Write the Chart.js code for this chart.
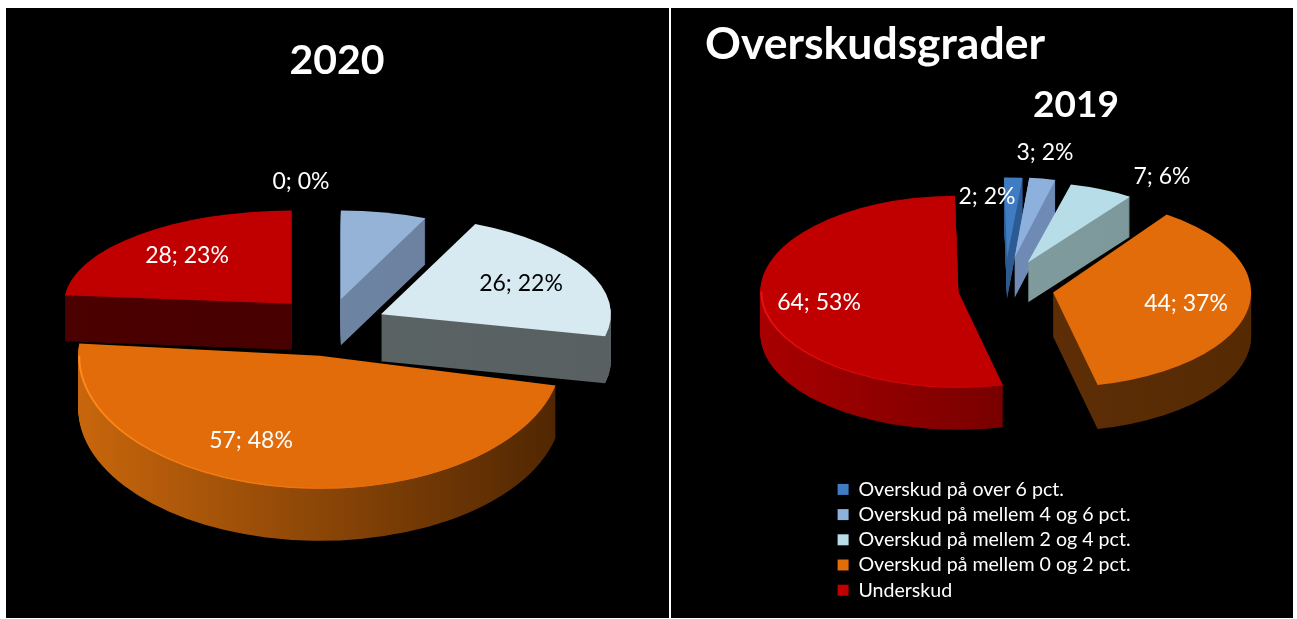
<!DOCTYPE html>
<html>
<head>
<meta charset="utf-8">
<title>Overskudsgrader</title>
<script src="https://cdn.jsdelivr.net/npm/chart.js@4/dist/chart.umd.js"></script>
<style>
  html, body { margin: 0; padding: 0; background: #fff; width: 1297px; height: 619px; overflow: hidden; }
  canvas { position: absolute; background: #000; }
  #chart-2020 { left: 6px; top: 8px; }
  #chart-2019 { left: 671px; top: 8px; }
</style>
</head>
<body>
<canvas id="chart-2020" width="663" height="610"></canvas>
<canvas id="chart-2019" width="622" height="610"></canvas>
<script>
const categories = [
  "Overskud på over 6 pct.",
  "Overskud på mellem 4 og 6 pct.",
  "Overskud på mellem 2 og 4 pct.",
  "Overskud på mellem 0 og 2 pct.",
  "Underskud",
];
const values2020 = [0, 8, 26, 57, 28];
const percent2020 = [0, 7, 22, 48, 23];
const values2019 = [2, 3, 7, 44, 64];
const percent2019 = [2, 2, 6, 37, 53];

const FONT = "Lato, Carlito, 'Open Sans', sans-serif";

// look of the fake 3D pies, one entry per slice
const look2020 = {
  colors: ["#376092", "#95b3d7", "#d7e9f1", "#e26b0a", "#c00000"],
  walls: [["#2a4a70", "#2a4a70"], ["#7088a8", "#6a7f9c"], ["#5c6566", "#586061"], ["#c8660c", "#4f2602"], ["#4c0000", "#440000"]],
  rims: [null, null, null, "#ff8a1c", null],
  offsets: [0, 52, 57, 64, 57],
  squash: [0.39, 0.43, 0.43, 0.55, 0.41],
  reach: [1, 0.87, 0.97, 1.02, 0.96],
  drop: [0, 0, 4, 0, 0],
  depth: [46, 46, 47, 52, 46],
  radius: 237,
  rotation: 0,
  order: [4, 0, 1, 2, 3],
  labelSpots: [[295, 174], null, [515, 276], [245, 433], [181, 248]],
  labelColors: ["#fff", "#fff", "#000", "#fff", "#fff"],
};
const look2019 = {
  colors: ["#3f7cc4", "#8db0dd", "#b7dde8", "#e26b0a", "#c00000"],
  walls: [["#2c5a92", "#2c5a92"], ["#6f8bb5", "#6f8bb5"], ["#83a0a3", "#7c9698"], ["#66320a", "#552a03"], ["#a80000", "#5a0000"]],
  rims: [null, null, null, null, "#e81010"],
  offsets: [58, 58, 55, 49, 47],
  squash: [0.455, 0.476, 0.45, 0.48, 0.485],
  reach: [0.9, 0.85, 0.9, 1, 1],
  drop: [0, 0, 0, 3, 4],
  depth: [40, 40, 40, 44, 42],
  radius: 198,
  rotation: -1,
  order: [0, 1, 2, 4, 3],
  labelSpots: [[316, 189], [374, 145], [491, 169], [515, 296], [148, 295]],
  labelColors: ["#fff", "#fff", "#fff", "#fff", "#fff"],
};

function slicePath(ctx, el, look, i, lift) {
  const p = el.getProps(["x", "y", "startAngle", "endAngle", "outerRadius"]);
  const mid = (p.startAngle + p.endAngle) / 2;
  const off = look.offsets[i];
  const sy = look.squash[i];
  const r = p.outerRadius * look.reach[i];
  ctx.translate(p.x + Math.cos(mid) * off, p.y + Math.sin(mid) * off * sy + look.drop[i] + lift);
  ctx.scale(1, sy);
  ctx.beginPath();
  ctx.moveTo(0, 0);
  ctx.arc(0, 0, r, p.startAngle, p.endAngle);
  ctx.closePath();
  return { r, start: p.startAngle, end: p.endAngle };
}

function pie3dPlugin(look, values, percents) {
  return {
    id: "pie3d",
    beforeDatasetsDraw(chart) {
      const ctx = chart.ctx;
      const arcs = chart.getDatasetMeta(0).data;

      look.order.forEach((i) => {
        const el = arcs[i];
        if (values[i] === 0) return;

        // side wall: the slice repeated downwards
        for (let lift = look.depth[i]; lift > 0; lift--) {
          ctx.save();
          const s = slicePath(ctx, el, look, i, lift);
          const wall = ctx.createLinearGradient(-s.r, 0, s.r, 0);
          wall.addColorStop(0, look.walls[i][0]);
          wall.addColorStop(1, look.walls[i][1]);
          ctx.fillStyle = wall;
          ctx.fill();
          ctx.restore();
        }

        // top face
        ctx.save();
        const s = slicePath(ctx, el, look, i, 0);
        ctx.fillStyle = look.colors[i];
        ctx.fill();
        if (look.rims[i]) {
          // only the front left edge catches the light
          const rim = ctx.createLinearGradient(-s.r, 0, s.r * 0.3, 0);
          rim.addColorStop(0, look.rims[i]);
          rim.addColorStop(1, look.colors[i]);
          ctx.beginPath();
          ctx.arc(0, 0, s.r - 1, Math.max(s.start, Math.PI / 4), Math.min(s.end, Math.PI));
          ctx.strokeStyle = rim;
          ctx.lineWidth = 2;
          ctx.stroke();
        }
        ctx.restore();
      });

      // data labels
      ctx.save();
      ctx.font = "23px " + FONT;
      ctx.textAlign = "center";
      ctx.textBaseline = "middle";
      look.labelSpots.forEach((spot, i) => {
        if (!spot) return;
        ctx.fillStyle = look.labelColors[i];
        ctx.fillText(values[i] + "; " + percents[i] + "%", spot[0], spot[1]);
      });
      ctx.restore();
      return false;
    },
  };
}

// titles and legend sit where the slide had them, not where the layout puts them
function moveBox(box, left, right, centerY) {
  const h = box.bottom - box.top;
  box.left = left;
  box.right = right;
  box.top = centerY - h / 2;
  box.bottom = box.top + h;
}

function makeChart(id, values, percents, look, opts) {
  return new Chart(document.getElementById(id), {
    type: "pie",
    data: {
      labels: categories,
      datasets: [
        {
          data: values,
          backgroundColor: look.colors,
          borderWidth: 0,
          offset: look.offsets,
          hoverOffset: 0,
          radius: look.radius,
          rotation: look.rotation,
        },
      ],
    },
    options: {
      responsive: false,
      animation: false,
      layout: { padding: opts.padding },
      plugins: {
        tooltip: { enabled: false },
        title: opts.title,
        subtitle: opts.subtitle || { display: false },
        legend: opts.legend || { display: false },
      },
    },
    plugins: [
      pie3dPlugin(look, values, percents),
      {
        id: "placeBoxes",
        afterLayout(chart) {
          opts.place(chart);
        },
      },
    ],
  });
}

makeChart("chart-2020", values2020, percent2020, look2020, {
  padding: { right: 15, bottom: 33 },
  title: {
    display: true,
    text: "2020",
    color: "#fff",
    padding: 0,
    font: { family: FONT, size: 41, weight: "bold" },
  },
  place(chart) {
    moveBox(chart.titleBlock, 0, 662, 53);
  },
});

makeChart("chart-2019", values2019, percent2019, look2019, {
  padding: { left: 46, bottom: 154 },
  title: {
    display: true,
    text: "Overskudsgrader",
    color: "#fff",
    align: "start",
    padding: 0,
    font: { family: FONT, size: 44.5, weight: "bold" },
  },
  subtitle: {
    display: true,
    text: "2019",
    color: "#fff",
    padding: 0,
    font: { family: FONT, size: 37, weight: "bold" },
  },
  legend: {
    display: true,
    position: "chartArea",
    align: "start",
    labels: {
      color: "#fff",
      boxWidth: 11,
      boxHeight: 11,
      padding: 5.6,
      font: { family: FONT, size: 19.6 },
    },
  },
  place(chart) {
    moveBox(chart.titleBlock, 34, 622, 37);
    const sub = chart.boxes.find((b) => b.options && b.options.text === "2019");
    moveBox(sub, 100, 710, 97);
    const legend = chart.legend;
    legend.left = 161;
    legend.right = 520;
    legend.top = 466;
    legend.bottom = 610;
  },
});
</script>
</body>
</html>
